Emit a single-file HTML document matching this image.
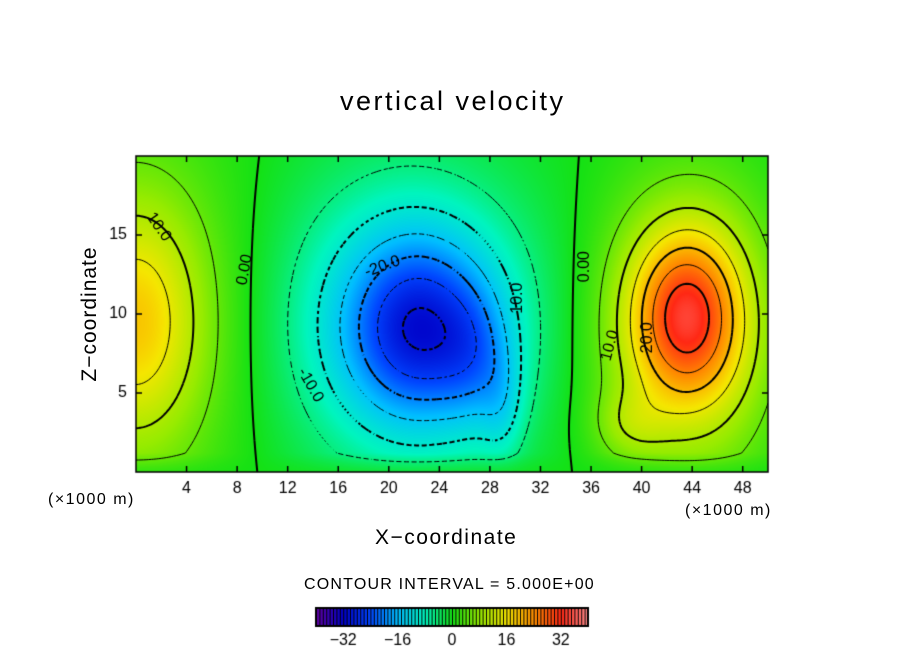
<!DOCTYPE html>
<html><head><meta charset="utf-8"><style>
body{margin:0;background:#fff;width:904px;height:654px;position:relative;overflow:hidden;font-family:"Liberation Sans","DejaVu Sans",sans-serif}
.t{position:absolute;color:#000;white-space:nowrap}
</style></head><body>
<div class="t" style="left:340px;top:86px;font-size:27px;letter-spacing:2.5px">vertical velocity</div>
<canvas id="cv" width="904" height="654" style="position:absolute;left:0;top:0"></canvas>
<div class="t" style="left:-10px;top:302px;font-size:21px;letter-spacing:1px;transform:rotate(-90deg);transform-origin:center;width:200px;text-align:center">Z−coordinate</div>
<div class="t" style="left:375px;top:526px;font-size:21px;letter-spacing:1.5px">X−coordinate</div>
<div class="t" style="left:48px;top:491px;font-size:16px;letter-spacing:1.5px">(×1000 m)</div>
<div class="t" style="left:685px;top:502px;font-size:16px;letter-spacing:1.5px">(×1000 m)</div>
<div class="t" style="left:304px;top:576px;font-size:16px;letter-spacing:1.2px">CONTOUR INTERVAL = 5.000E+00</div>
<script>
const xTicks=[4,8,12,16,20,24,28,32,36,40,44,48];
const zTicks=[5,10,15];
const cbTicks=[-32,-16,0,16,32];
const blobX=[0,0,22.5,21.5,27,29,43.5,43,39,47];
const blobZ=[9.5,9.5,9,9.5,7,4,10,9,3,9];
const blobAmp=[11,8,-17,-14,-6,-5,18,15,5,3];
const blobSX=[3.5,6,4,7,2,1.2,2.8,4.5,2,3];
const blobSZ=[5,8,4,6.5,3,2.5,3.5,6,1.5,6];
const labels=[["10.0",1.8,15.5,55],["0.00",8.6,12.8,-80],["-20.0",19.5,13,-20],["-10.0",13.8,5.5,60],["10.0",30.2,11,-90],["0.00",35.5,13,-90],["10.0",37.5,8,-75],["20.0",40.5,8.5,-90]];
const X0=136,X1=768,Y0=156,Y1=472,XM=50,ZM=20;
const sx=v=>X0+(v/XM)*(X1-X0), sz=v=>Y1-(v/ZM)*(Y1-Y0);
function f(x,z){let s=0;for(let i=0;i<blobX.length;i++){const dx=(x-blobX[i])/blobSX[i],dz=(z-blobZ[i])/blobSZ[i];s+=blobAmp[i]*Math.exp(-0.5*(dx*dx+dz*dz));}
 const b=Math.min(1,z/1.2);return s*(0.3+0.7*b);}
const stops=[[-40,[96,0,160]],[-32,[0,0,200]],[-24,[0,70,255]],[-16,[0,190,255]],[-8,[0,245,190]],[0,[20,225,20]],[8,[150,235,0]],[16,[245,230,0]],[24,[255,140,0]],[32,[255,40,20]],[40,[255,140,140]]];
function col(v){v=Math.max(-40,Math.min(40,v));for(let i=0;i<stops.length-1;i++){const a=stops[i],b=stops[i+1];if(v<=b[0]){const t=(v-a[0])/(b[0]-a[0]);return a[1].map((c,k)=>Math.round(c+(b[1][k]-c)*t));}}return stops[stops.length-1][1];}
const cv=document.getElementById('cv'),ctx=cv.getContext('2d');
const W=X1-X0,H=Y1-Y0,img=ctx.createImageData(W,H);
for(let j=0;j<H;j++)for(let i=0;i<W;i++){const v=f((i+.5)/W*XM,(H-j-.5)/H*ZM);const c=col(v);const p=(j*W+i)*4;img.data[p]=c[0];img.data[p+1]=c[1];img.data[p+2]=c[2];img.data[p+3]=255;}
ctx.putImageData(img,X0,Y0);
const NX=250,NZ=100,g=[];
for(let j=0;j<=NZ;j++){g[j]=[];for(let i=0;i<=NX;i++)g[j][i]=f(i/NX*XM,j/NZ*ZM);}
ctx.save();ctx.beginPath();ctx.rect(X0,Y0,W,H);ctx.clip();
for(let L=-35;L<=35;L+=5){
 const thick=(L%10===0);ctx.lineWidth=thick?2:1;ctx.strokeStyle='#000';ctx.beginPath();
 for(let j=0;j<NZ;j++)for(let i=0;i<NX;i++){
  if(L<0&&((i+j)%3===0))continue;
  const c=[[i,j],[i+1,j],[i+1,j+1],[i,j+1]];const pts=[];
  for(let k=0;k<4;k++){const a=c[k],b=c[(k+1)%4];const va=g[a[1]][a[0]]-L,vb=g[b[1]][b[0]]-L;
   if((va<0)!==(vb<0)){const t=va/(va-vb);pts.push([sx((a[0]+(b[0]-a[0])*t)/NX*XM),sz((a[1]+(b[1]-a[1])*t)/NZ*ZM)]);}}
  for(let k=0;k+1<pts.length;k+=2){ctx.moveTo(pts[k][0],pts[k][1]);ctx.lineTo(pts[k+1][0],pts[k+1][1]);}
 }
 ctx.stroke();
}
ctx.restore();
ctx.font='16px "Liberation Sans",sans-serif';ctx.textAlign='center';ctx.textBaseline='middle';
labels.forEach(l=>{ctx.save();ctx.translate(sx(l[1]),sz(l[2]));ctx.rotate(l[3]*Math.PI/180);ctx.fillStyle='#000';ctx.fillText(l[0],0,0);ctx.restore();});
ctx.strokeStyle='#000';ctx.lineWidth=1.5;ctx.strokeRect(X0,Y0,W,H);
ctx.font='16px "Liberation Sans",sans-serif';ctx.fillStyle='#000';
xTicks.forEach(t=>{const x=sx(t);ctx.beginPath();ctx.moveTo(x,Y1);ctx.lineTo(x,Y1-6);ctx.moveTo(x,Y0);ctx.lineTo(x,Y0+6);ctx.stroke();ctx.textAlign='center';ctx.textBaseline='top';ctx.fillText(String(t),x,481);});
zTicks.forEach(t=>{const y=sz(t);ctx.beginPath();ctx.moveTo(X0,y);ctx.lineTo(X0+6,y);ctx.moveTo(X1,y);ctx.lineTo(X1-6,y);ctx.stroke();ctx.textAlign='right';ctx.textBaseline='middle';ctx.fillText(String(t),127,y);});
const CB0=316,CB1=588,CBY=608,CBH=18,cbx=v=>CB0+(v+40)/80*(CB1-CB0);
for(let v=-40;v<40;v+=1){const c=col(v+0.5);ctx.fillStyle=`rgb(${c})`;ctx.fillRect(cbx(v),CBY,cbx(v+1)-cbx(v)+0.5,CBH);ctx.fillStyle='#000';ctx.fillRect(cbx(v),CBY,1,CBH);}
ctx.lineWidth=2;ctx.strokeRect(CB0,CBY,CB1-CB0,CBH);
ctx.textAlign='center';ctx.textBaseline='top';ctx.fillStyle='#000';
cbTicks.forEach(t=>ctx.fillText(String(t).replace('-','−'),cbx(t),633));
</script>
</body></html>
